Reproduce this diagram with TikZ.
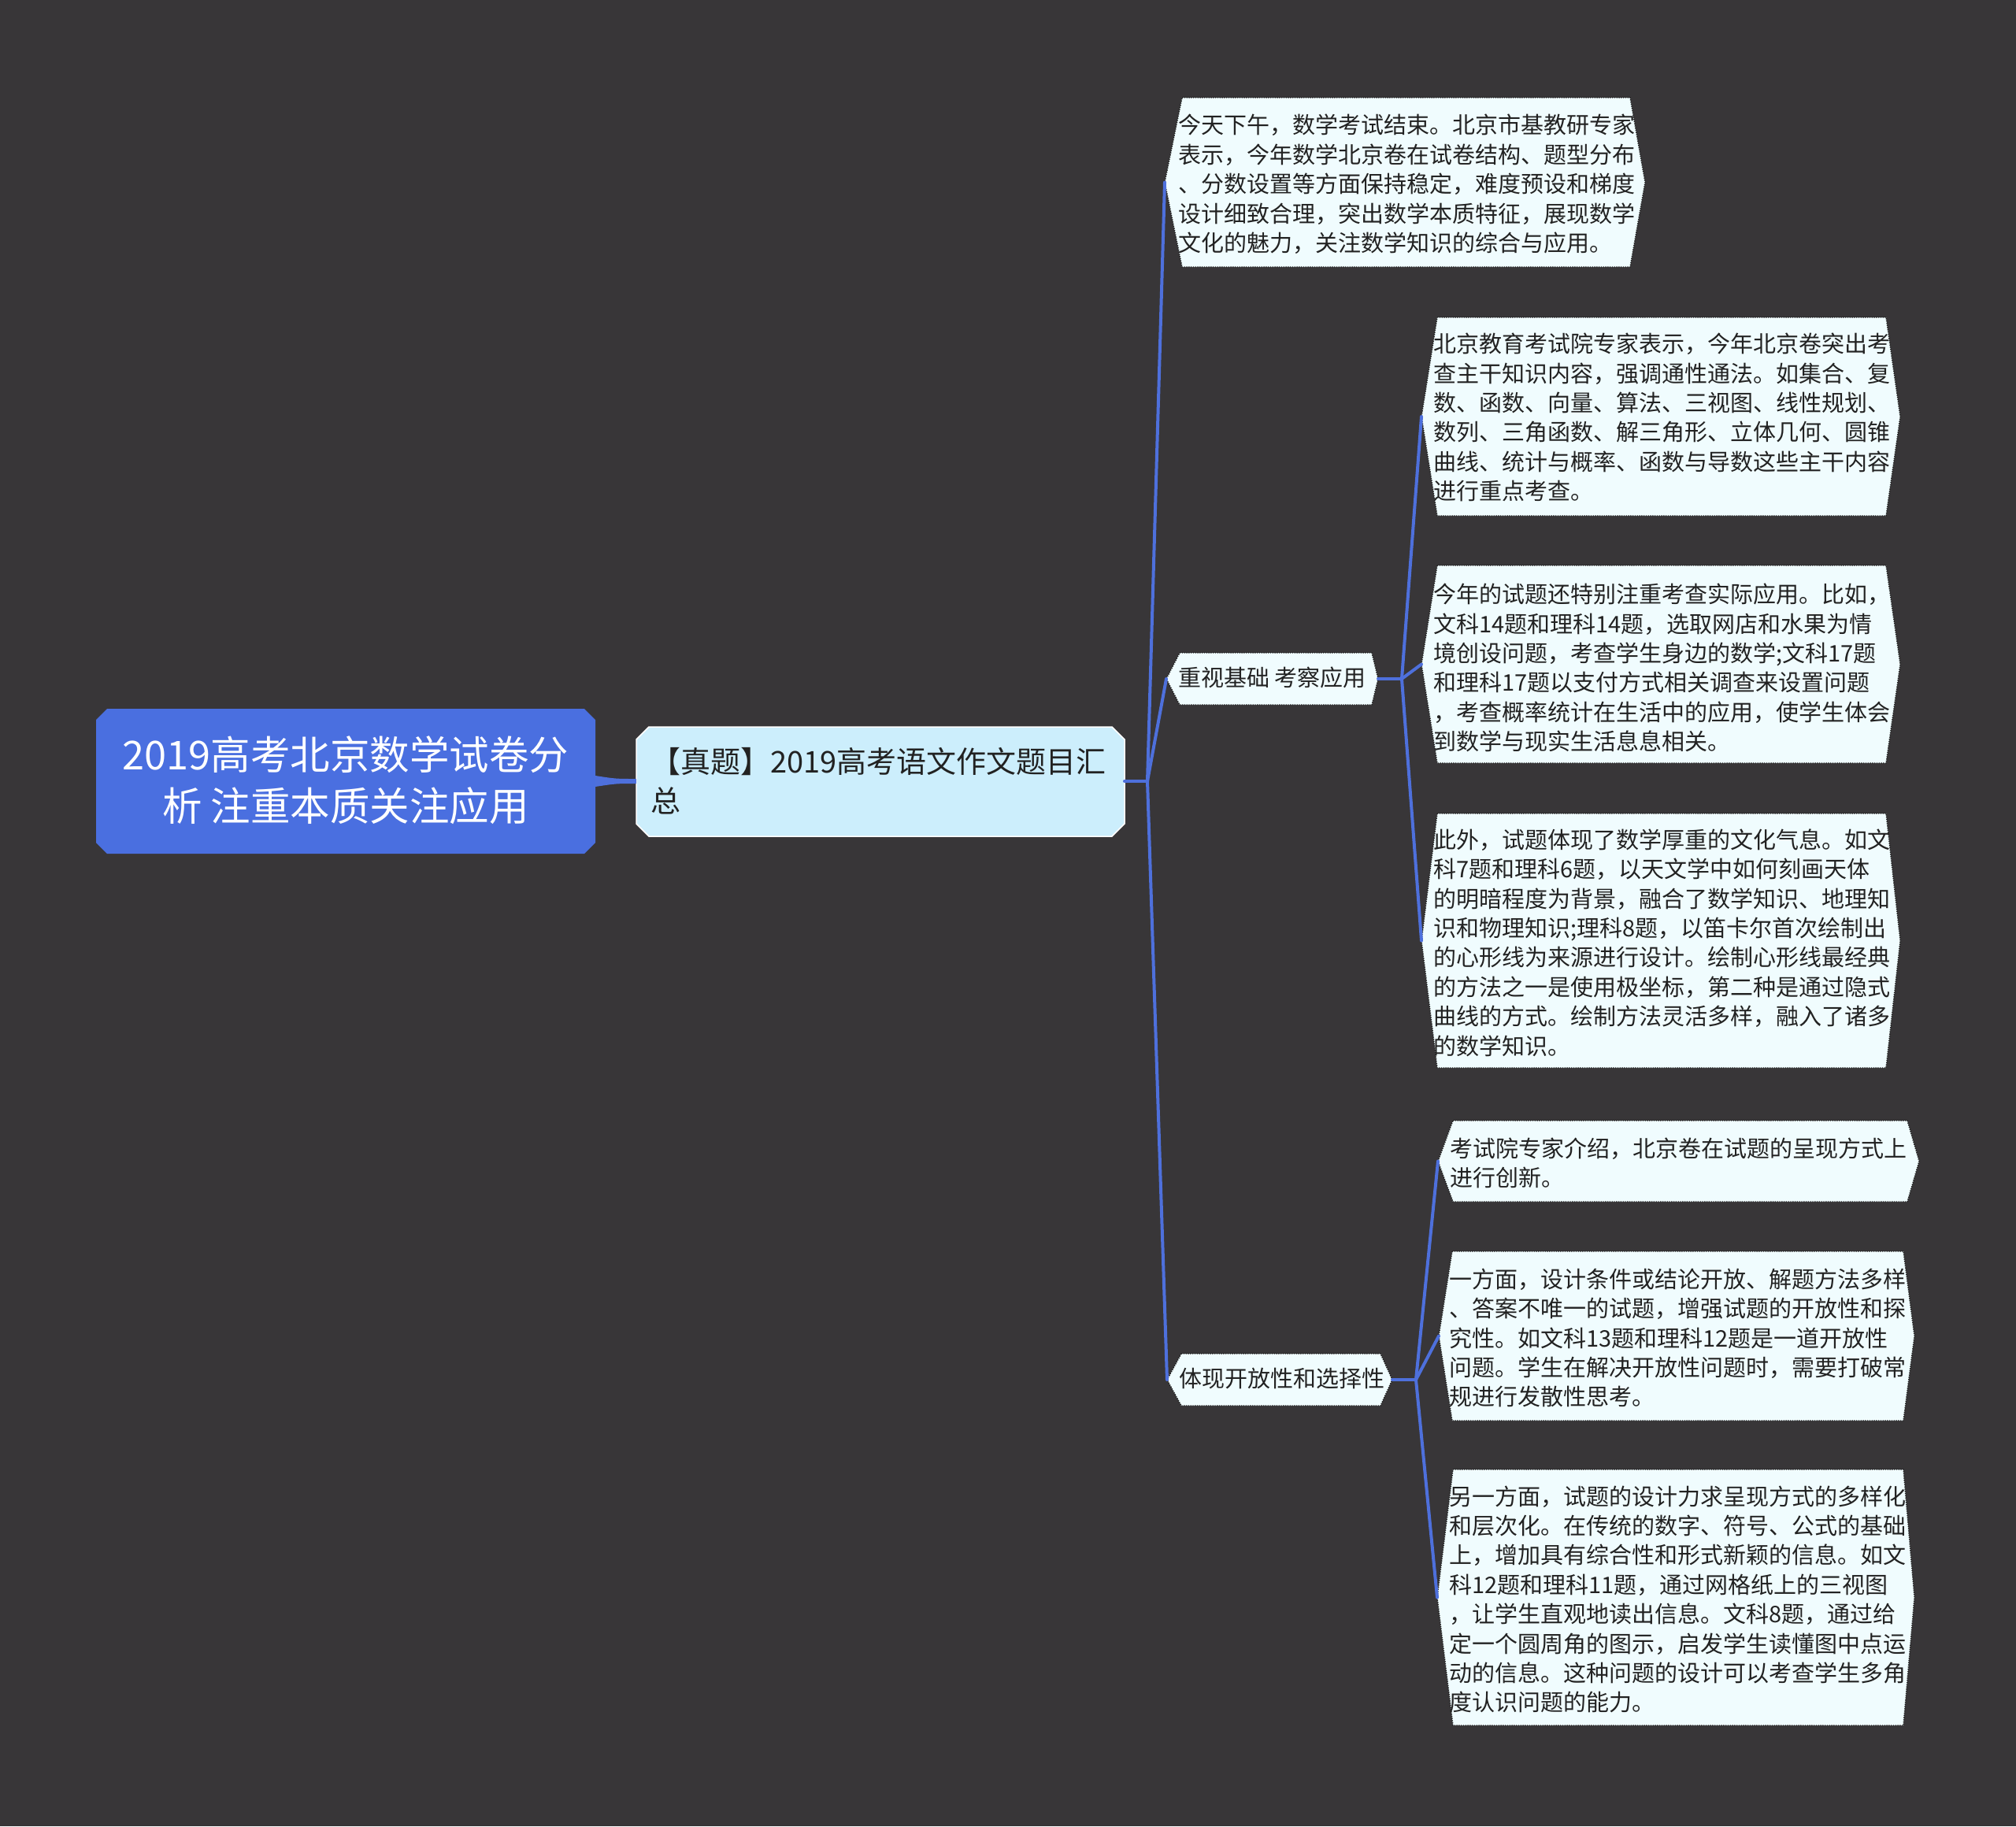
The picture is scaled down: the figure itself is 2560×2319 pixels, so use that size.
\documentclass[tikz,border=0pt]{standalone}
\usepackage{fontspec}
\setmainfont{Noto Sans CJK SC}
\usetikzlibrary{calc}
\definecolor{bg}{HTML}{383638}
\definecolor{rootblue}{HTML}{4A6FE0}
\definecolor{linkblue}{HTML}{4E70DC}
\definecolor{subjfill}{HTML}{CCEEFC}
\definecolor{childfill}{HTML}{F0FCFE}
\definecolor{dotc}{HTML}{1E1E1E}
\definecolor{txt}{HTML}{222222}
\tikzset{
  conn/.style={draw=linkblue, line width=4pt, line cap=round, line join=round},
  childbox/.style={fill=childfill, draw=dotc, line width=1.4pt, dash pattern=on 1.4pt off 1.4pt},
  childtext/.style={inner sep=0pt, align=left, text=txt, font=\fontsize{29}{37.4}\selectfont, anchor=west},
  roottext/.style={inner sep=0pt, align=center, text=white, font=\fontsize{50.5}{65}\selectfont},
  subjtext/.style={inner sep=0pt, align=left, text=txt, font=\fontsize{38}{50}\selectfont, anchor=west},
}
% name, left point x, left corner x, right corner x, right point x, top y, bottom y
\newcommand\hexbox[7]{%
  \path[childbox] (#3,#6) -- (#4,#6) -- (#5,{(#6+#7)/2}) -- (#4,#7) -- (#3,#7) -- (#2,{(#6+#7)/2}) -- cycle;
  \coordinate (#1-l) at (#2,{(#6+#7)/2});
  \coordinate (#1-r) at (#5,{(#6+#7)/2});
}
\begin{document}
\begin{tikzpicture}[x=1pt,y=-1pt]
\fill[bg] (0,0) rectangle (2560,2319);
\useasboundingbox (0,0) rectangle (2560,2319);

% root
\fill[rootblue] (136,900) -- (742,900) -- (756,914) -- (756,1070) -- (742,1084) -- (136,1084) -- (122,1070) -- (122,914) -- cycle;
\node[roottext] (root) at (439,991) {2019高考北京数学试卷分\\析 注重本质关注应用};
\coordinate (root-r) at (756,992);

% subject
\path[fill=subjfill, draw=white, line width=1.5pt] (824,923) -- (1412,923) -- (1428,939) -- (1428,1046) -- (1412,1062) -- (824,1062) -- (808,1046) -- (808,939) -- cycle;
\node[subjtext] (subj) at (826,992) {【真题】2019高考语文作文题目汇\\总};
\coordinate (subj-l) at (808,992);
\coordinate (subj-r) at (1428,992);
\coordinate (f1) at (1457,992);

\fill[linkblue] ($(root-r)+(0,-7)$) .. controls ($(root-r)+(26,-3)$) .. ($(subj-l)+(0,-3)$) -- ($(subj-l)+(0,3)$) .. controls ($(root-r)+(26,3)$) .. ($(root-r)+(0,7)$) -- cycle;

% level 1 boxes
\hexbox{c1}{1479}{1501}{2070}{2089}{124}{339}
\node[childtext] (c1t) at (1496,234) {今天下午，数学考试结束。北京市基教研专家\\表示，今年数学北京卷在试卷结构、题型分布\\、分数设置等方面保持稳定，难度预设和梯度\\设计细致合理，突出数学本质特征，展现数学\\文化的魅力，关注数学知识的综合与应用。};

\hexbox{c2}{1481}{1498}{1742}{1750}{829}{895}
\node[childtext] (c2t) at (1496,860) {重视基础 考察应用};

\hexbox{c3}{1482}{1500}{1753}{1768}{1719}{1785}
\node[childtext] (c3t) at (1497,1750) {体现开放性和选择性};

\coordinate (f2) at (1780,862);
\coordinate (f3) at (1798,1752);

% level 2 boxes
\hexbox{c2a}{1805}{1825}{2395}{2413}{403}{655}
\node[childtext] (c2at) at (1820,530) {北京教育考试院专家表示，今年北京卷突出考\\查主干知识内容，强调通性通法。如集合、复\\数、函数、向量、算法、三视图、线性规划、\\数列、三角函数、解三角形、立体几何、圆锥\\曲线、统计与概率、函数与导数这些主干内容\\进行重点考查。};

\hexbox{c2b}{1805}{1825}{2395}{2413}{718}{969}
\node[childtext] (c2bt) at (1820,848) {今年的试题还特别注重考查实际应用。比如，\\文科14题和理科14题，选取网店和水果为情\\境创设问题，考查学生身边的数学;文科17题\\和理科17题以支付方式相关调查来设置问题\\，考查概率统计在生活中的应用，使学生体会\\到数学与现实生活息息相关。};

\hexbox{c2c}{1805}{1825}{2395}{2413}{1033}{1356}
\node[childtext] (c2ct) at (1820,1197) {此外，试题体现了数学厚重的文化气息。如文\\科7题和理科6题，以天文学中如何刻画天体\\的明暗程度为背景，融合了数学知识、地理知\\识和物理知识;理科8题，以笛卡尔首次绘制出\\的心形线为来源进行设计。绘制心形线最经典\\的方法之一是使用极坐标，第二种是通过隐式\\曲线的方式。绘制方法灵活多样，融入了诸多\\的数学知识。};

\hexbox{c3a}{1826}{1845}{2422}{2437}{1423}{1526}
\node[childtext] (c3at) at (1841,1477) {考试院专家介绍，北京卷在试题的呈现方式上\\进行创新。};

\hexbox{c3b}{1827}{1844}{2417}{2431}{1589}{1804}
\node[childtext] (c3bt) at (1840,1699) {一方面，设计条件或结论开放、解题方法多样\\、答案不唯一的试题，增强试题的开放性和探\\究性。如文科13题和理科12题是一道开放性\\问题。学生在解决开放性问题时，需要打破常\\规进行发散性思考。};

\hexbox{c3c}{1825}{1845}{2417}{2431}{1866}{2191}
\node[childtext] (c3ct) at (1840,2031) {另一方面，试题的设计力求呈现方式的多样化\\和层次化。在传统的数字、符号、公式的基础\\上，增加具有综合性和形式新颖的信息。如文\\科12题和理科11题，通过网格纸上的三视图\\，让学生直观地读出信息。文科8题，通过给\\定一个圆周角的图示，启发学生读懂图中点运\\动的信息。这种问题的设计可以考查学生多角\\度认识问题的能力。};

% connectors
\draw[conn] (subj-r) -- (f1);
\draw[conn] (f1) -- (c1-l);
\draw[conn] (f1) -- (c2-l);
\draw[conn] (f1) -- (c3-l);
\draw[conn] (c2-r) -- (f2);
\draw[conn] (f2) -- (c2a-l);
\draw[conn] (f2) -- (c2b-l);
\draw[conn] (f2) -- (c2c-l);
\draw[conn] (c3-r) -- (f3);
\draw[conn] (f3) -- (c3a-l);
\draw[conn] (f3) -- (c3b-l);
\draw[conn] (f3) -- (c3c-l);
\end{tikzpicture}
\end{document}
